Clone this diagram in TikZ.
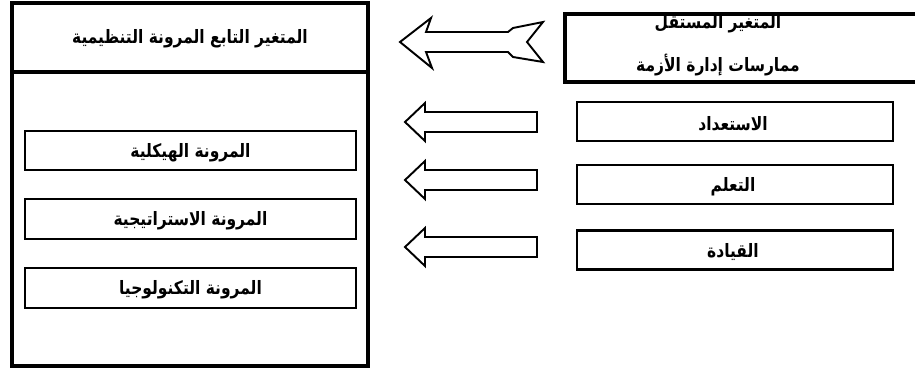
\documentclass[tikz,border=0pt]{standalone}
\usepackage{fontspec}
\newfontfamily\arabicfont[Script=Arabic,FakeStretch=0.84]{DejaVu Sans}
\TeXXeTstate=1
\begin{document}
\begin{tikzpicture}[x=0.02cm,y=-0.02cm,
  lbl/.style={font=\arabicfont\bfseries\fontsize{10.5}{12}\selectfont, inner sep=0pt, yshift=-1pt},
  thickbox/.style={draw, line width=2pt, inner sep=0pt},
  thinbox/.style={draw, line width=1.3pt, inner sep=0pt},
  harrow/.style={draw, line width=1.1pt, fill=white, line join=miter}]
\useasboundingbox (0,0) rectangle (915,372);
\clip (0,0) rectangle (915,372);
% dependent variable (left)
\node (dep) [thickbox, minimum width=7.12cm, minimum height=7.26cm] at (190,184.5) {};
\coordinate (dv) at (0,72);
\draw[line width=2pt] (dep.west |- dv) -- (dep.east |- dv);
\node (deptitle) [lbl] at (190,37) {\beginR المتغير التابع المرونة التنظيمية\endR};
\node (d1) [thinbox, minimum width=6.62cm, minimum height=0.79cm] at (190.5,150.5) {};
\node (d2) [thinbox, minimum width=6.62cm, minimum height=0.79cm] at (190.5,219) {};
\node (d3) [thinbox, minimum width=6.62cm, minimum height=0.79cm] at (190.5,288) {};
\node (d1t) [lbl] at (d1) {\beginR المرونة الهيكلية\endR};
\node (d2t) [lbl] at (d2) {\beginR المرونة الاستراتيجية\endR};
\node (d3t) [lbl] at (d3) {\beginR المرونة التكنولوجيا\endR};
% independent variable (right)
\node (indt1) [lbl] at (718,22) {\beginR المتغير المستقل\endR};
\node (indt2) [lbl] at (718,63) {\beginR ممارسات إدارة الأزمة\endR};
\node (ind) [thickbox, minimum width=7.3cm, minimum height=1.36cm] at (747.5,48) {};
\node (i1) [thinbox, minimum width=6.32cm, minimum height=0.78cm] at (735,121.5) {};
\node (i2) [thinbox, minimum width=6.32cm, minimum height=0.78cm] at (735,184.5) {};
\node (i3) [thinbox, minimum width=6.32cm, minimum height=0.78cm] at (735,250) {};
\node (i1t) [lbl] at (733,121.5) {\beginR الاستعداد\endR};
\node (i2t) [lbl] at (733,184.5) {\beginR التعلم\endR};
\node (i3t) [lbl] at (733,250) {\beginR القيادة\endR};
% big arrow
\draw[harrow] (400,42) -- (431,18) -- (426,32) -- (508,32) -- (513,28) -- (543,22) -- (527,42)
  -- (543,62) -- (513,57) -- (508,52) -- (426,52) -- (432,68) -- cycle;
% small arrows
\foreach \c in {122,180,247}{
  \draw[harrow] (405,\c) -- (425,\c-19) -- (425,\c-10) -- (537,\c-10) -- (537,\c+10)
    -- (425,\c+10) -- (425,\c+19) -- cycle;
}
\end{tikzpicture}
\end{document}
